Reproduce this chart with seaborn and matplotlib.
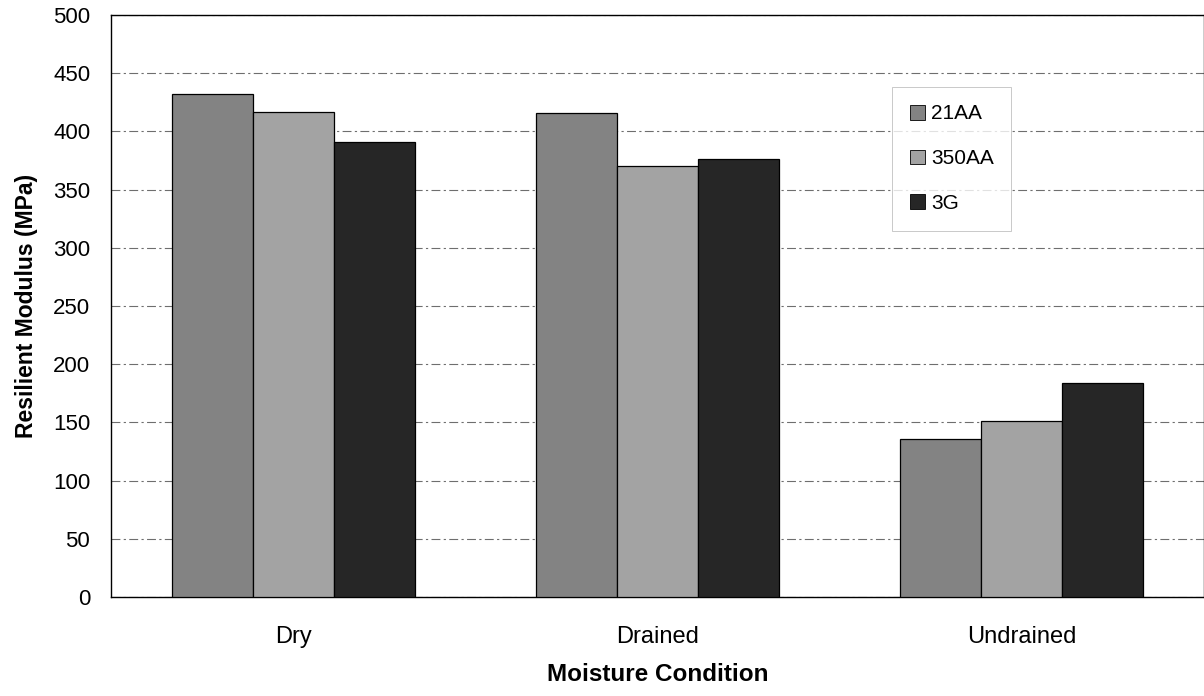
import matplotlib
matplotlib.use("Agg")
import matplotlib.pyplot as plt
import seaborn as sns
import pandas as pd

conditions = ["Dry", "Drained", "Undrained"]
series_names = ["21AA", "350AA", "3G"]
vals_21AA = [432, 416, 136]
vals_350AA = [417, 370, 151]
vals_3G = [391, 376, 184]
yticks = [0, 50, 100, 150, 200, 250, 300, 350, 400, 450, 500]

rows = []
for name, vals in zip(series_names, [vals_21AA, vals_350AA, vals_3G]):
    for c, v in zip(conditions, vals):
        rows.append({"Moisture Condition": c, "Material": name, "Value": v})
df = pd.DataFrame(rows)

sns.set_theme(style="white")
plt.rcParams['font.family'] = ['Liberation Sans', 'DejaVu Sans']
plt.rcParams['text.color'] = 'black'
plt.rcParams['axes.labelcolor'] = 'black'
plt.rcParams['xtick.color'] = 'black'
plt.rcParams['ytick.color'] = 'black'

fig = plt.figure(figsize=(12.04, 6.96), dpi=100)
ax = fig.add_axes([0.0922, 0.1422, 0.9078, 0.8362])

palette = {"21AA": "#838383", "350AA": "#a3a3a3", "3G": "#262626"}
sns.barplot(data=df, x="Moisture Condition", y="Value", hue="Material",
            hue_order=series_names, order=conditions, palette=palette,
            width=0.667, edgecolor="black", linewidth=0.9, saturation=1,
            ax=ax, zorder=3)

ax.set_ylim(0, 500)
ax.set_xlim(-0.5, 2.5)
ax.set_yticks(yticks)
ax.set_yticklabels([str(t) for t in yticks], fontsize=16)
ax.tick_params(axis='x', labelsize=17, pad=21, length=0)
ax.tick_params(axis='y', pad=15, length=0)
ax.yaxis.grid(True, color="#6e6e6e", linestyle=(0, (8, 3, 2, 3)), linewidth=0.8, zorder=0)
ax.set_axisbelow(True)
for s in ax.spines.values():
    s.set_color("black")
    s.set_linewidth(1.0)

ax.set_xlabel("Moisture Condition", fontsize=17.5, fontweight="bold", labelpad=11)
ax.set_ylabel("Resilient Modulus (MPa)", fontsize=16.5, fontweight="bold", labelpad=11)

leg = ax.legend(loc="upper left", bbox_to_anchor=(0.715, 0.8765), borderaxespad=0,
                fontsize=15, frameon=True, handlelength=0.72, handleheight=0.72,
                handletextpad=0.3, labelspacing=1.24, borderpad=0.84, fancybox=False)
leg.get_frame().set_edgecolor("#b0b0b0")
leg.get_frame().set_linewidth(0.6)
leg.set_title(None)
for h in leg.legend_handles:
    h.set_edgecolor("black")
    h.set_linewidth(0.6)

fig.savefig("out.png", dpi=100)
